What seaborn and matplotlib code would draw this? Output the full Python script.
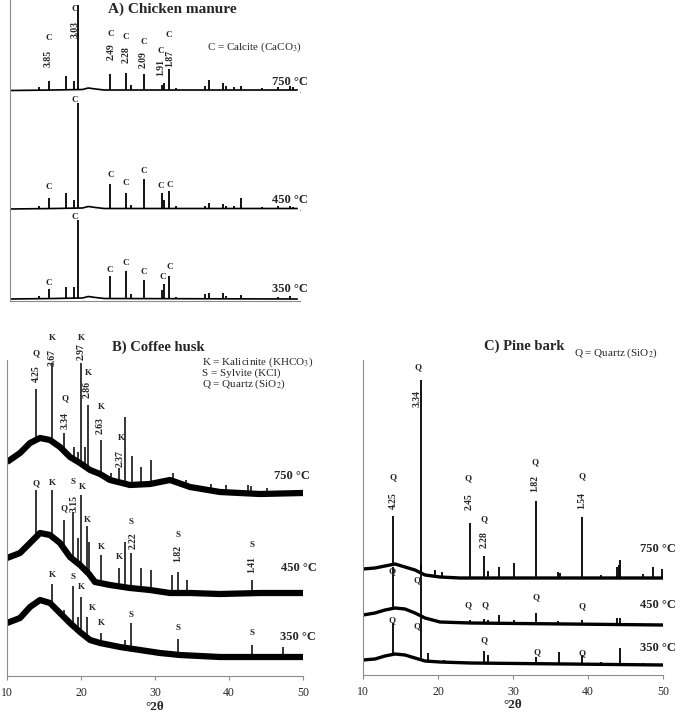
import numpy as np
import matplotlib
matplotlib.use('Agg')
import matplotlib.pyplot as plt
import seaborn as sns

sns.set_style('white')
plt.rcParams['font.family'] = ['Liberation Serif', 'DejaVu Serif']
plt.rcParams['mathtext.fontset'] = 'stix'

W, H = 680, 712
temps = ['750 °C', '450 °C', '350 °C']

# ---------- A) Chicken manure (°2θ, intensity a.u.) ----------
cm750_base = [(10, 1.5), (16, 2), (20, 2.5), (20.8, 4), (21.8, 3), (23, 2), (49.7, 2)]
cm750_peaks = [(14.0, 5), (15.38, 11), (17.72, 16), (18.83, 11), (19.38, 87), (23.79, 18),
               (26.0, 19), (26.69, 7), (28.48, 18), (30.97, 7), (31.24, 9), (31.93, 23),
               (32.9, 4), (36.9, 6), (37.45, 12), (39.38, 9), (39.79, 6), (40.9, 5),
               (41.86, 6), (44.76, 4), (46.97, 5), (48.62, 6), (49.03, 5)]
cm750_marks = [(15.38, 54, 'C'), (18.97, 83, 'C'), (23.93, 58, 'C'), (26.0, 55, 'C'),
               (28.48, 50, 'C'), (30.83, 41, 'C'), (31.93, 57, 'C')]
cm750_dvals = [(15.24, 34, '3.85'), (18.97, 63, '3.03'), (23.93, 40, '2.49'), (26.0, 37, '2.28'),
               (28.34, 32, '2.09'), (30.83, 25, '1.91'), (32.07, 34, '1.87')]

cm450_base = [(10, 1), (16, 1.5), (20, 2), (20.8, 3.5), (21.8, 2.5), (23, 1.5), (49.7, 1.5)]
cm450_peaks = [(14.0, 4), (15.38, 12), (17.72, 17), (18.83, 10), (19.38, 107), (23.79, 26),
               (26.0, 17), (26.69, 5), (28.48, 31), (30.97, 17), (31.24, 10), (31.93, 19),
               (32.9, 4), (36.9, 4), (37.45, 7), (39.38, 6), (39.79, 4), (40.9, 4),
               (41.86, 12), (44.76, 3), (46.97, 4), (48.62, 4), (49.03, 3)]
cm450_marks = [(15.38, 23, 'C'), (18.97, 110, 'C'), (23.93, 35, 'C'), (26.0, 27, 'C'),
               (28.48, 39, 'C'), (30.83, 24, 'C'), (32.07, 25, 'C')]

cm350_base = [(10, 2), (16, 2.5), (20, 3), (20.8, 4.5), (21.8, 3.5), (23, 2.5), (49.7, 2)]
cm350_peaks = [(14.0, 5), (15.38, 12), (17.72, 14), (18.83, 14), (19.38, 81), (23.79, 25),
               (26.0, 30), (26.69, 7), (28.48, 21), (30.97, 11), (31.24, 17), (31.93, 25),
               (32.9, 4), (36.9, 7), (37.45, 8), (39.38, 8), (39.79, 5), (41.86, 6),
               (46.97, 4), (48.62, 5)]
cm350_marks = [(15.38, 18, 'C'), (18.97, 84, 'C'), (23.79, 31, 'C'), (26.0, 38, 'C'),
               (28.48, 29, 'C'), (31.1, 24, 'C'), (32.07, 34, 'C')]

# ---------- B) Coffee husk ----------
ch750_base = [(10, 214), (11.76, 223), (13.11, 233), (14.46, 238), (15.81, 236), (17.16, 229),
              (18.51, 219), (19.86, 213), (21.22, 206), (22.57, 202), (23.92, 196), (26.62, 191),
              (29.32, 192), (32.03, 196), (34.73, 189), (38.78, 184), (44.19, 182), (50, 183)]
ch750_peaks = [(13.92, 287), (16.08, 313), (17.70, 243), (19.05, 229), (19.59, 224), (20.0, 313),
               (20.54, 229), (20.95, 271), (22.70, 236), (24.05, 203), (25.14, 208), (25.95, 259),
               (26.89, 220), (28.11, 209), (29.46, 216), (32.43, 203), (34.19, 196), (37.57, 192),
               (39.59, 191), (42.57, 191), (43.0, 190), (45.14, 188)]
ch750_marks = [(13.92, 323, 'Q'), (16.08, 338, 'K'), (17.84, 278, 'Q'), (20.0, 338, 'K'),
               (20.95, 303, 'K'), (22.70, 269, 'K'), (25.41, 238, 'K')]
ch750_dvals = [(13.92, 302, '4.25'), (16.08, 319, '3.67'), (17.84, 255, '3.34'), (20.0, 324, '2.97'),
               (20.81, 286, '2.86'), (22.57, 250, '2.63'), (25.27, 217, '2.37')]

ch450_base = [(10, 118), (11.76, 123), (13.11, 133), (14.46, 143), (15.81, 141), (17.16, 133),
              (18.51, 119), (19.86, 111), (21.08, 102), (21.89, 94), (23.92, 91), (26.62, 88),
              (29.32, 86), (32.03, 83), (34.73, 83), (38.78, 82), (44.19, 83), (50, 83)]
ch450_peaks = [(13.92, 186), (16.08, 186), (17.70, 156), (18.92, 164), (19.59, 138), (20.0, 181),
               (20.81, 150), (21.08, 134), (22.70, 121), (25.14, 108), (25.95, 134), (26.76, 123),
               (28.11, 108), (29.46, 106), (32.30, 101), (33.11, 104), (34.32, 96), (43.11, 96)]
ch450_marks = [(13.92, 193, 'Q'), (16.08, 193, 'K'), (18.92, 194, 'S'), (20.14, 189, 'K'),
               (17.70, 168, 'Q'), (20.81, 156, 'K'), (22.70, 129, 'K'), (25.14, 119, 'K'),
               (26.76, 154, 'S'), (33.11, 141, 'S'), (43.11, 131, 'S')]
ch450_dvals = [(19.05, 173, '3.15'), (27.03, 135, '2.22'), (33.11, 123, '1.82'), (43.11, 111, '1.41')]

ch350_base = [(10, 53), (11.76, 58), (13.11, 69), (14.46, 76), (15.81, 73), (17.16, 63),
              (18.51, 53), (19.86, 44), (21.22, 36), (22.57, 33), (25.27, 29), (27.97, 26),
              (30.68, 23), (33.38, 21), (38.78, 19), (50, 19)]
ch350_peaks = [(16.08, 92), (17.70, 66), (18.92, 90), (19.59, 59), (20.0, 79), (20.81, 59),
               (22.70, 43), (25.95, 36), (26.76, 53), (33.11, 37), (43.11, 31), (47.30, 29)]
ch350_marks = [(16.08, 101, 'K'), (18.92, 99, 'S'), (20.0, 89, 'K'), (21.49, 68, 'K'),
               (22.70, 53, 'K'), (26.76, 61, 'S'), (33.11, 48, 'S'), (43.11, 43, 'S')]

# ---------- C) Pine bark ----------
pb750_base = [(10, 106), (11.6, 107), (12.93, 109), (14.27, 111), (15.6, 108), (16.93, 105),
              (18.27, 100), (20.27, 98), (22.93, 97), (50, 97)]
pb750_peaks = [(14.0, 159), (17.73, 295), (19.6, 105), (20.53, 103), (24.27, 152), (26.13, 119),
               (26.67, 104), (28.13, 108), (30.13, 112), (33.07, 174), (36.0, 103), (36.27, 102),
               (39.2, 158), (41.73, 100), (43.87, 108), (44.1, 110), (44.27, 115), (47.33, 101),
               (48.67, 108), (49.87, 106)]
pb750_marks = [(14.0, 198, 'Q'), (17.33, 308, 'Q'), (24.0, 197, 'Q'), (26.13, 156, 'Q'),
               (32.93, 213, 'Q'), (39.2, 199, 'Q')]
pb750_dvals = [(14.0, 174, '4.25'), (17.2, 276, '3.34'), (24.13, 173, '2.45'), (26.13, 135, '2.28'),
               (32.93, 191, '1.82'), (39.2, 174, '1.54')]

pb450_base = [(10, 60), (11.6, 62), (12.93, 65), (14.27, 67), (15.6, 66), (16.93, 62),
              (18.27, 57), (20.27, 53), (24.27, 52), (50, 50)]
pb450_peaks = [(14.0, 108), (17.73, 110), (24.27, 55), (26.13, 56), (26.67, 55), (28.13, 60),
               (30.13, 55), (33.07, 62), (36.0, 54), (39.2, 55), (43.87, 57), (44.27, 57)]
pb450_marks = [(13.87, 104, 'Q'), (17.2, 95, 'Q'), (24.0, 70, 'Q'), (26.27, 70, 'Q'),
               (33.07, 78, 'Q'), (39.2, 69, 'Q')]

pb350_base = [(10, 15), (11.6, 16), (12.93, 19), (14.27, 21), (15.6, 20), (16.93, 17),
              (18.27, 14), (20.27, 13), (24.27, 12), (50, 10)]
pb350_peaks = [(14.0, 52), (17.73, 60), (18.67, 22), (20.8, 15), (26.13, 24), (26.67, 20),
               (33.07, 18), (36.13, 23), (39.2, 20), (41.73, 13), (44.27, 27), (47.33, 12)]
pb350_marks = [(13.87, 55, 'Q'), (17.2, 49, 'Q'), (26.13, 35, 'Q'), (33.2, 23, 'Q'), (39.2, 22, 'Q')]


def rect(x0, y0, x1, y1):
    return [x0 / W, 1 - y1 / H, (x1 - x0) / W, (y1 - y0) / H]


def style_axes(ax, ticks):
    sns.despine(ax=ax)
    for s in ['left', 'bottom']:
        ax.spines[s].set_color('#8c8c8c')
        ax.spines[s].set_linewidth(0.8)
    ax.set_yticks([])
    ax.set_xlim(10, 50)
    if ticks:
        ax.set_xticks([10, 20, 30, 40, 50])
        ax.tick_params(axis='x', direction='out', length=3, width=0.8, color='#8c8c8c',
                       pad=5, labelsize=8.5, bottom=True)
        ax.set_xlabel('°2θ', fontsize=9.5, fontweight='bold', labelpad=1)
    else:
        ax.set_xticks([])


def draw_trace(ax, base, peaks, base_lw, peak_lw):
    bx = [b[0] for b in base]
    by = [b[1] for b in base]
    sns.lineplot(x=bx, y=by, ax=ax, color='black', lw=base_lw, estimator=None,
                 sort=False, solid_capstyle='butt')
    px = [p[0] for p in peaks]
    pt = [p[1] for p in peaks]
    ax.vlines(px, np.interp(px, bx, by), pt, color='black', lw=peak_lw)


def put_labels(ax, marks, dvals=()):
    for x, y, s in marks:
        ax.text(x, y, s, ha='center', va='center', fontsize=6.5, fontweight='bold')
    for x, y, s in dvals:
        ax.text(x, y, s, ha='center', va='center', fontsize=7, fontweight='bold', rotation=90)


fig = plt.figure(figsize=(W / 100, H / 100), dpi=100)

# ---- panel A ----
a_rects = [(10, 0, 300, 92), (10, 92, 300, 210), (10, 210, 300, 301)]
a_data = [(cm750_base, cm750_peaks, cm750_marks, cm750_dvals),
          (cm450_base, cm450_peaks, cm450_marks, ()),
          (cm350_base, cm350_peaks, cm350_marks, ())]
a_temp_y = [10, 10, 12]
for r, (base, peaks, marks, dvals), t, ty in zip(a_rects, a_data, temps, a_temp_y):
    ax = fig.add_axes(rect(*r))
    style_axes(ax, False)
    ax.set_ylim(0, r[3] - r[1])
    draw_trace(ax, base, peaks, 1.2, 1.3)
    put_labels(ax, marks, dvals)
    ax.text(51.1, ty, t, ha='right', va='center', fontsize=9, fontweight='bold')

fig.text(172 / W, 1 - 9 / H, 'A) Chicken manure', ha='center', va='center',
         fontsize=11, fontweight='bold')
fig.text(207 / W, 1 - 47 / H, 'C = Calcite (CaCO$_3$)', ha='left', va='center', fontsize=8)

# ---- panel B ----
axb = fig.add_axes(rect(7, 360, 303, 676))
style_axes(axb, True)
axb.set_ylim(0, 316)
b_data = [(ch750_base, ch750_peaks, ch750_marks, ch750_dvals),
          (ch450_base, ch450_peaks, ch450_marks, ch450_dvals),
          (ch350_base, ch350_peaks, ch350_marks, ())]
b_temp = [(50.95, 200), (51.9, 108), (51.76, 39)]
for (base, peaks, marks, dvals), t, (tx, ty) in zip(b_data, temps, b_temp):
    draw_trace(axb, base, peaks, 4.5, 1.1)
    put_labels(axb, marks, dvals)
    axb.text(tx, ty, t, ha='right', va='center', fontsize=9, fontweight='bold')

fig.text(158 / W, 1 - 347 / H, 'B) Coffee husk', ha='center', va='center',
         fontsize=10.5, fontweight='bold')
for i, s in enumerate(['K = Kalicinite (KHCO$_3$)', 'S = Sylvite (KCl)', 'Q = Quartz (SiO$_2$)']):
    fig.text(202 / W, 1 - (362 + 11 * i) / H, s, ha='left', va='center', fontsize=8)

# ---- panel C ----
axc = fig.add_axes(rect(363, 360, 663, 675))
style_axes(axc, True)
axc.set_ylim(0, 315)
c_data = [(pb750_base, pb750_peaks, pb750_marks, pb750_dvals),
          (pb450_base, pb450_peaks, pb450_marks, ()),
          (pb350_base, pb350_peaks, pb350_marks, ())]
c_temp_y = [126, 70, 27]
for (base, peaks, marks, dvals), t, ty in zip(c_data, temps, c_temp_y):
    draw_trace(axc, base, peaks, 2.4, 1.3)
    put_labels(axc, marks, dvals)
    axc.text(51.73, ty, t, ha='right', va='center', fontsize=9, fontweight='bold')

fig.text(524 / W, 1 - 346 / H, 'C) Pine bark', ha='center', va='center',
         fontsize=10.5, fontweight='bold')
fig.text(574 / W, 1 - 353 / H, 'Q = Quartz (SiO$_2$)', ha='left', va='center', fontsize=8)

fig.savefig('out.png', dpi=100)
